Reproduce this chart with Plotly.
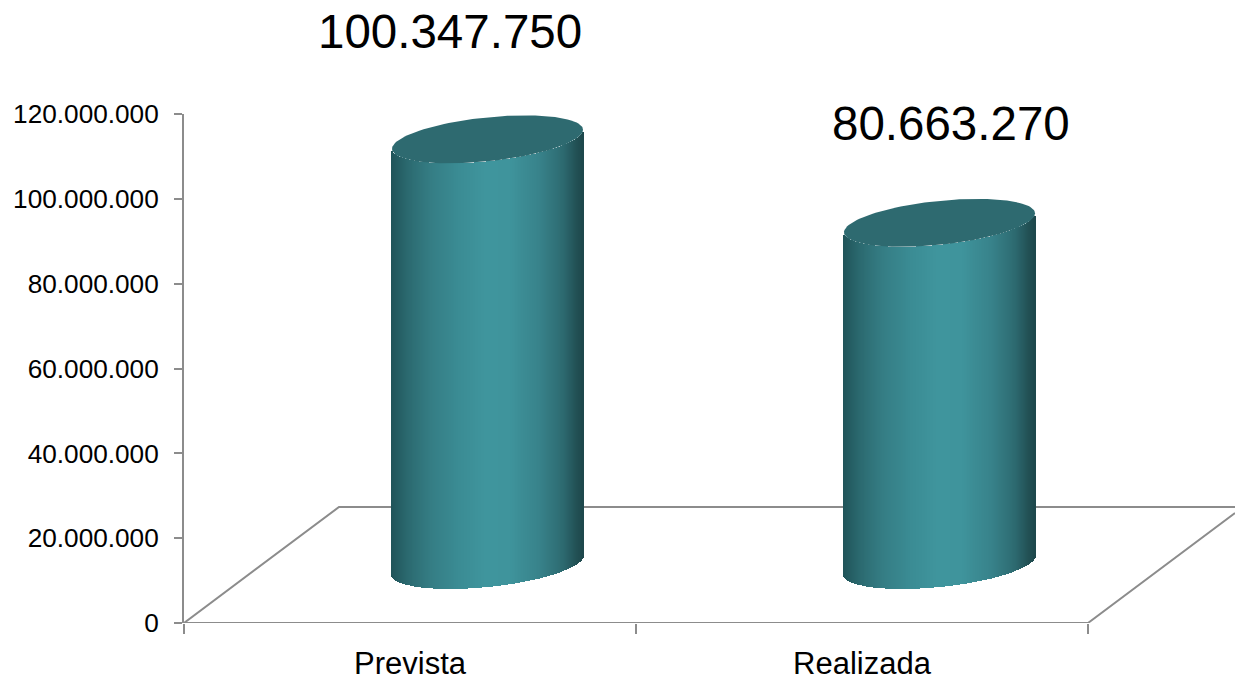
import numpy as np
import plotly.graph_objects as go

categories = ["Prevista", "Realizada"]
values = [100347750, 80663270]
value_labels = ["100.347.750", "80.663.270"]
y_ticks = [0, 20000000, 40000000, 60000000, 80000000, 100000000, 120000000]

# style / geometry
W, H = 1235, 678
L, R, T, B = 184, 0, 114, 55
CAT_PX = 452.0
Y_MAX = 120000000
M_PER_PX = Y_MAX / (H - T - B)
X_MIN = -0.5
X_MAX = X_MIN + (W - L - R) / CAT_PX
CYL_OFFSET = 77.5 / CAT_PX
CYL_HALF = 95.5 / CAT_PX
CYL_BASE = 58 * M_PER_PX
SHEAR = 9.5 * M_PER_PX
MINOR = 22 * M_PER_PX
LINE = "#8c8c8c"
TOP = "#2e6a70"
STOP_POS = [0, .08, .2, .35, .5, .62, .78, .9, .97, 1]
STOP_RGB = [(32, 84, 89), (43, 105, 111), (53, 125, 132), (59, 140, 148), (64, 150, 158),
            (63, 148, 156), (56, 130, 138), (45, 106, 112), (34, 80, 84), (30, 72, 76)]
N = 200

fig = go.Figure()

# floor of the 3D plot, kept beneath the cylinders
dx, dy = 155 / CAT_PX, 116 * M_PER_PX
x0, x1 = X_MIN, X_MIN + 2
floor = (f"M {x0} 0 L {x0 + dx} {dy} L {X_MAX} {dy} "
         f"M {x1} 0 L {X_MAX} {(X_MAX - x1) / dx * dy} M {x0} 0 L {x1} 0")
fig.add_shape(type="path", path=floor, xref="x", yref="y", layer="below",
              line=dict(color=LINE, width=2))

u = (np.arange(N) + 0.5) / N * 2 - 1
shades = ["rgb(%d,%d,%d)" % tuple(np.interp((u + 1) / 2, STOP_POS, [c[i] for c in STOP_RGB])[j]
                                  for i in range(3))
          for j in range(N)]
t = np.linspace(0, 2 * np.pi, 121)

for i, v in enumerate(values):
    cx = i + CYL_OFFSET
    low = CYL_BASE + SHEAR * u - MINOR * np.sqrt(1 - u ** 2)
    fig.add_trace(go.Bar(
        x=cx + u * CYL_HALF, y=[v] * N, base=low, width=2.2 * CYL_HALF / N,
        marker=dict(color=shades, line=dict(width=0)), showlegend=False,
        hoverinfo="skip"))
    fig.add_trace(go.Scatter(
        x=cx + CYL_HALF * np.cos(t),
        y=CYL_BASE + v + SHEAR * np.cos(t) + MINOR * np.sin(t),
        mode="lines", fill="toself", fillcolor=TOP, line=dict(width=0, color=TOP),
        showlegend=False, hoverinfo="skip"))

label_dx = [40 / CAT_PX, 89 / CAT_PX]
label_shift = [165.5, 157]
for i, v in enumerate(values):
    fig.add_annotation(x=i + label_dx[i], y=v, yshift=label_shift[i], text=value_labels[i],
                       showarrow=False, font=dict(size=47.5, color="#000000"),
                       xanchor="center", yanchor="middle")

fig.update_layout(
    width=W, height=H, margin=dict(l=L, r=R, t=T, b=B, pad=0, autoexpand=False),
    paper_bgcolor="white", plot_bgcolor="white",
    barmode="overlay", bargap=0, separators=",.",
    font=dict(family="Liberation Sans, Arial, sans-serif", color="#000000"),
    xaxis=dict(range=[X_MIN, X_MAX], tickmode="array", tickvals=[0, 1], ticktext=categories,
               ticks="", showgrid=False, zeroline=False, showline=False, automargin=False,
               tickfont=dict(size=31), ticklabelstandoff=19,
               minor=dict(tickmode="array", tickvals=[-0.5, 0.5, 1.5], ticks="outside",
                          ticklen=10, tickwidth=2, tickcolor=LINE, showgrid=False)),
    yaxis=dict(range=[0, Y_MAX], tickmode="array", tickvals=y_ticks, tickformat=",d",
               ticks="outside", ticklen=8, tickwidth=2, tickcolor=LINE, automargin=False,
               showline=True, linecolor=LINE, linewidth=2, showgrid=False, zeroline=False,
               tickfont=dict(size=26.2), ticklabelstandoff=10),
)
fig.write_html("out.html", default_width=f"{W}px", default_height=f"{H}px",
               config={"displayModeBar": False},
               post_script="document.body.style.margin='0';document.documentElement.style.overflow='hidden';")
